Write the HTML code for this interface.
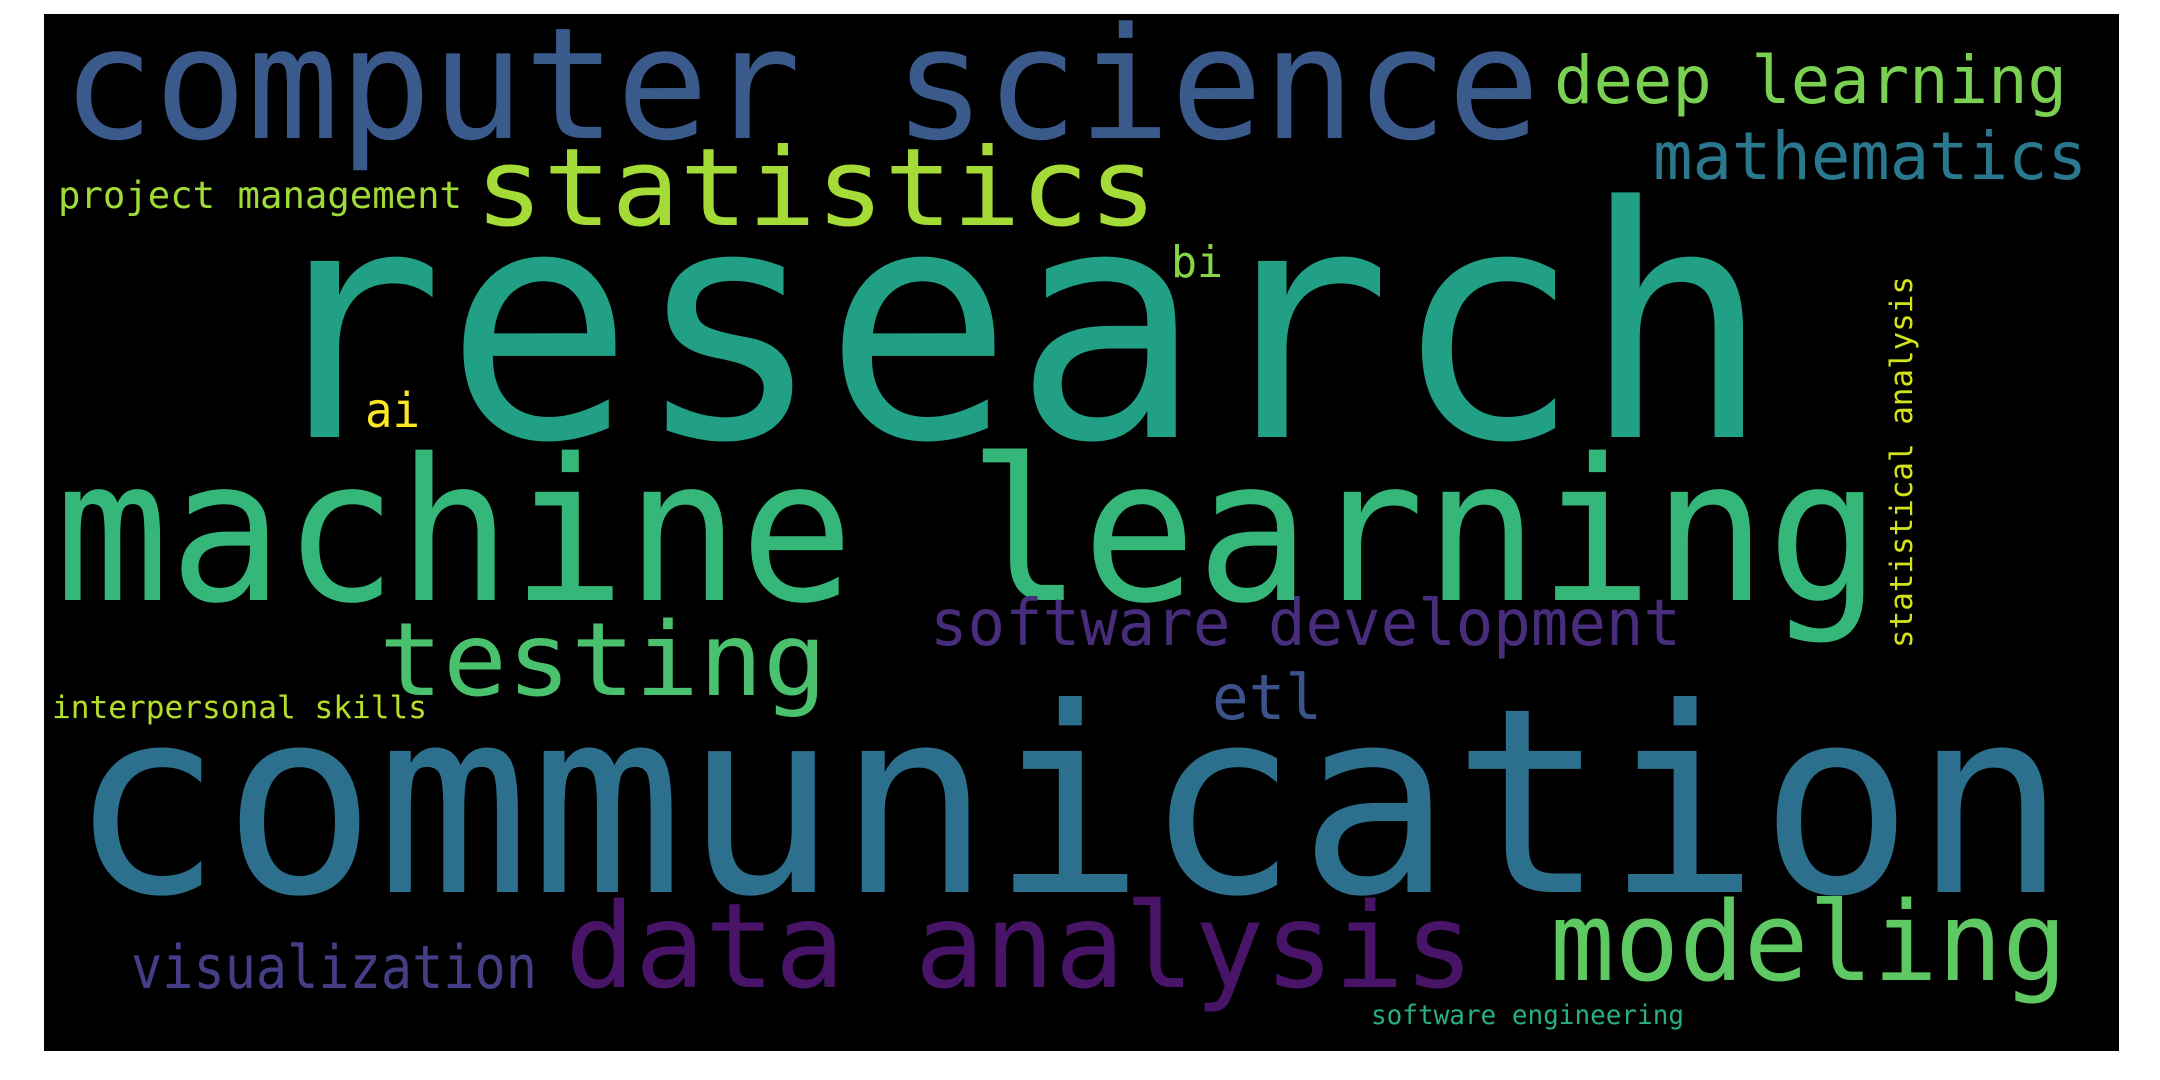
<!DOCTYPE html>
<html><head><meta charset="utf-8"><style>
html,body{margin:0;padding:0;background:#fff;width:2160px;height:1080px;overflow:hidden}
svg text{font-family:"DejaVu Sans Mono","Liberation Mono",monospace}
</style></head><body>
<svg width="2160" height="1080">
<rect x="44" y="14" width="2075" height="1037" fill="#000"/>
<text x="62" y="138" font-size="155" fill="#3b5a8c" textLength="1478" lengthAdjust="spacingAndGlyphs">computer science</text>
<text x="255" y="437" font-size="322" fill="#22a085" textLength="1516" lengthAdjust="spacingAndGlyphs">research</text>
<text x="55" y="600" font-size="198" fill="#35b779" textLength="1826" lengthAdjust="spacingAndGlyphs">machine learning</text>
<text x="69" y="892" font-size="258" fill="#2d708e" textLength="1998" lengthAdjust="spacingAndGlyphs">communication</text>
<text x="475" y="225" font-size="108" fill="#a5db36" textLength="682" lengthAdjust="spacingAndGlyphs">statistics</text>
<text x="1554" y="103" font-size="66" fill="#7ad151" textLength="513" lengthAdjust="spacingAndGlyphs">deep learning</text>
<text x="1653" y="179" font-size="66" fill="#2a788e" textLength="434" lengthAdjust="spacingAndGlyphs">mathematics</text>
<text x="58" y="208" font-size="37" fill="#a0da39" textLength="404" lengthAdjust="spacingAndGlyphs">project management</text>
<text x="1171" y="277" font-size="44" fill="#86d549" textLength="52" lengthAdjust="spacingAndGlyphs">bi</text>
<text x="365" y="427" font-size="48" fill="#fde725" textLength="55" lengthAdjust="spacingAndGlyphs">ai</text>
<text transform="translate(1912,648) rotate(-90)" font-size="31" fill="#d2e21b" textLength="372" lengthAdjust="spacingAndGlyphs">statistical analysis</text>
<text x="379" y="695" font-size="102" fill="#4ac16d" textLength="448" lengthAdjust="spacingAndGlyphs">testing</text>
<text x="930" y="645" font-size="64" fill="#472d7b" textLength="751" lengthAdjust="spacingAndGlyphs">software development</text>
<text x="1212" y="719" font-size="62" fill="#3b528b" textLength="110" lengthAdjust="spacingAndGlyphs">etl</text>
<text x="52" y="718" font-size="31" fill="#b5de2b" textLength="375" lengthAdjust="spacingAndGlyphs">interpersonal skills</text>
<text x="565" y="987" font-size="118" fill="#481467" textLength="909" lengthAdjust="spacingAndGlyphs">data analysis</text>
<text x="1550" y="980" font-size="110" fill="#5ec962" textLength="517" lengthAdjust="spacingAndGlyphs">modeling</text>
<text x="131" y="988" font-size="60" fill="#433e85" textLength="406" lengthAdjust="spacingAndGlyphs">visualization</text>
<text x="1371" y="1024" font-size="27" fill="#29af7f" textLength="313" lengthAdjust="spacingAndGlyphs">software engineering</text>
</svg>
</body></html>
